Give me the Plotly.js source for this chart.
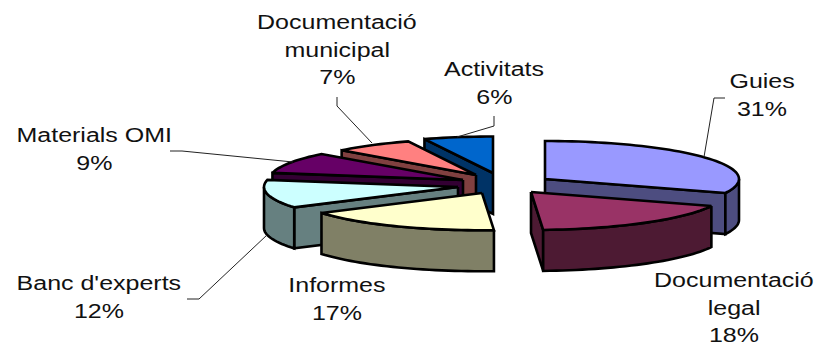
<!DOCTYPE html>
<html>
<head>
<meta charset="utf-8">
<script src="https://cdn.plot.ly/plotly-3.0.1.min.js"></script>
<style>html,body{margin:0;padding:0;background:#fff}#chart{width:816px;height:345px}</style>
</head>
<body>
<div id="chart"></div>
<script>
// Data, in pie order (clockwise from 12 o'clock)
const categories = ["Guies", "Documentació legal", "Informes", "Banc d'experts", "Materials OMI", "Documentació municipal", "Activitats"];
const values = [31, 18, 17, 12, 9, 7, 6];
const labelLines = [["Guies"], ["Documentació", "legal"], ["Informes"], ["Banc d'experts"], ["Materials OMI"], ["Documentació", "municipal"], ["Activitats"]];

// Slice styling
const topColors = ["#9999FF", "#993366", "#FFFFCC", "#CCFFFF", "#660066", "#FF8080", "#0066CC"];
const sideColors = ["#4D4D80", "#4D1A33", "#808066", "#668080", "#330033", "#804040", "#003366"];

// Layout: explosion apex of every slice, pie radii, depth
const apexX = [545, 531, 482, 458, 463, 476, 493];
const apexY = [179, 192, 193, 187, 180, 175, 173];
const radiusScale = [1, 1, 0.98, 1, 1, 0.95, 0.96];
const rx = 194, ry = 38, depth = 41;
const drawOrder = [6, 5, 4, 3, 0, 1, 2];

// Layout: label placement
const labelCx = [762, 734, 337, 99, 94, 337, 494];
const labelBase = [88, 287, 292, 290, 142, 29, 76];
const lineGap = 27.5;

// Leader lines
const leaderX = [[725, 714, 704], [], [], [187, 199, 267], [170, 182, 293], [337, 337, 372], [494, 494, 457]];
const leaderY = [[98, 98, 157], [], [], [299, 299, 235], [151, 151, 162], [97, 106, 143], [116, 126, 137]];

const total = values.reduce((a, b) => a + b, 0);
const traces = [];
const px = (i, deg) => apexX[i] + rx * radiusScale[i] * Math.sin(deg * Math.PI / 180);
const py = (i, deg) => apexY[i] - ry * radiusScale[i] * Math.cos(deg * Math.PI / 180);

function poly(xs, ys, fill) {
  traces.push({
    x: xs.concat(xs[0]), y: ys.concat(ys[0]), type: "scatter", mode: "lines", fill: "toself",
    fillcolor: fill, line: { color: "#000", width: 2.6, simplify: false }, hoverinfo: "skip", showlegend: false
  });
}
function face(i, deg, fill) {
  const x1 = px(i, deg), y1 = py(i, deg);
  poly([apexX[i], x1, x1, apexX[i]], [apexY[i], y1, y1 + depth, apexY[i] + depth], fill);
}
function arc(i, a, b) {
  const n = Math.max(2, Math.ceil((b - a) / 2)), pts = [];
  for (let k = 0; k <= n; k++) pts.push(a + (b - a) * k / n);
  return pts;
}

const starts = [];
values.reduce((acc, v, i) => { starts[i] = acc; return acc + v; }, 0);

drawOrder.forEach(i => {
  const a0 = starts[i] / total * 360, a1 = (starts[i] + values[i]) / total * 360;
  if (a0 > 180 && a0 < 360) face(i, a0, sideColors[i]);
  if (a1 > 0 && a1 < 180) face(i, a1, sideColors[i]);
  const w0 = Math.max(a0, 90), w1 = Math.min(a1, 270);
  if (w1 > w0) {
    const pts = arc(i, w0, w1);
    const xs = pts.map(d => px(i, d)), ys = pts.map(d => py(i, d));
    poly(xs.concat(xs.slice().reverse()), ys.concat(ys.map(y => y + depth).reverse()), sideColors[i]);
  }
  const pts = arc(i, a0, a1);
  poly([apexX[i]].concat(pts.map(d => px(i, d))), [apexY[i]].concat(pts.map(d => py(i, d))), topColors[i]);
});

categories.forEach((c, i) => {
  if (leaderX[i].length) traces.push({
    x: leaderX[i], y: leaderY[i], type: "scatter", mode: "lines",
    line: { color: "#222", width: 1 }, hoverinfo: "skip", showlegend: false
  });
});

const annotations = [];
categories.forEach((c, i) => {
  const lines = labelLines[i].concat(Math.round(values[i] / total * 100) + "%");
  lines.forEach((t, k) => annotations.push({
    text: t, x: labelCx[i], y: labelBase[i] + k * lineGap - 7, xref: "x", yref: "y",
    xanchor: "center", yanchor: "middle", showarrow: false,
    font: { family: "Liberation Sans, Arial, sans-serif", size: 20, color: "#111" }
  }));
});

const layout = {
  width: 816, height: 345, margin: { l: 0, r: 0, t: 0, b: 0 },
  paper_bgcolor: "#fff", plot_bgcolor: "#fff", showlegend: false,
  xaxis: { range: [0, 816], visible: false, fixedrange: true },
  yaxis: { range: [345, 0], visible: false, fixedrange: true },
  annotations: annotations
};

Plotly.newPlot("chart", traces, layout, { displayModeBar: false, staticPlot: true }).then(() => {
  // The reference's lettering is horizontally widened
  document.querySelectorAll(".annotation-text").forEach(el => {
    const b = el.getBBox(), cx = b.x + b.width / 2;
    el.setAttribute("transform", `translate(${cx} 0) scale(1.25 1) translate(${-cx} 0)`);
  });
});
</script>
</body>
</html>
